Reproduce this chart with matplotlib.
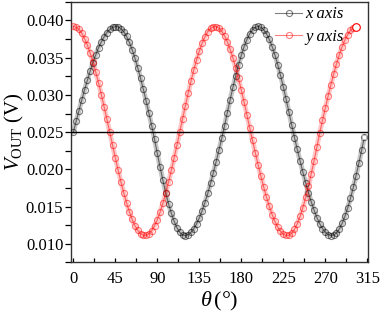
import numpy as np
import matplotlib
matplotlib.use("Agg")
import matplotlib.pyplot as plt
from matplotlib.ticker import MultipleLocator, FormatStrFormatter

# ======== 字体 ========
plt.rcParams['font.family'] = ['Liberation Serif', 'DejaVu Sans']
plt.rcParams['mathtext.fontset'] = 'custom'
plt.rcParams['mathtext.rm'] = 'Liberation Serif'
plt.rcParams['mathtext.it'] = 'Liberation Serif:italic'

# ======== 数据（读图估计，角度步长 3°） ========
v_x_axis = [
    0.02500, 0.02645, 0.02789, 0.02930, 0.03066, 0.03196, 0.03319, 0.03433, 0.03538, 0.03632,  # 0-27
    0.03713, 0.03782, 0.03838, 0.03880, 0.03907, 0.03919, 0.03915, 0.03892, 0.03849, 0.03786,  # 30-57
    0.03706, 0.03608, 0.03494, 0.03366, 0.03226, 0.03076, 0.02917, 0.02753, 0.02585, 0.02404,  # 60-87
    0.02213, 0.02028, 0.01852, 0.01688, 0.01540, 0.01410, 0.01302, 0.01216, 0.01155, 0.01119,  # 90-117
    0.01110, 0.01122, 0.01153, 0.01201, 0.01266, 0.01347, 0.01443, 0.01553, 0.01676, 0.01810,  # 120-147
    0.01952, 0.02102, 0.02257, 0.02415, 0.02583, 0.02761, 0.02934, 0.03101, 0.03258, 0.03402,  # 150-177
    0.03533, 0.03647, 0.03743, 0.03820, 0.03875, 0.03909, 0.03920, 0.03909, 0.03876, 0.03821,  # 180-207
    0.03745, 0.03650, 0.03537, 0.03408, 0.03264, 0.03108, 0.02943, 0.02771, 0.02595, 0.02426,  # 210-237
    0.02267, 0.02112, 0.01962, 0.01819, 0.01685, 0.01561, 0.01450, 0.01353, 0.01270, 0.01204,  # 240-267
    0.01155, 0.01124, 0.01111, 0.01117, 0.01146, 0.01199, 0.01273, 0.01368, 0.01481, 0.01612,  # 270-297
    0.01758, 0.01917, 0.02085, 0.02260, 0.02440,                                               # 300-312
]
v_y_axis = [
    0.03920, 0.03910, 0.03879, 0.03828, 0.03757, 0.03669, 0.03563, 0.03442, 0.03307, 0.03160,  # 0-27
    0.03004, 0.02840, 0.02671, 0.02500, 0.02326, 0.02155, 0.01990, 0.01832, 0.01685, 0.01551,  # 30-57
    0.01431, 0.01328, 0.01244, 0.01180, 0.01136, 0.01113, 0.01112, 0.01134, 0.01177, 0.01241,  # 60-87
    0.01324, 0.01427, 0.01546, 0.01681, 0.01829, 0.01987, 0.02153, 0.02325, 0.02500, 0.02677,  # 90-117
    0.02851, 0.03020, 0.03181, 0.03331, 0.03468, 0.03590, 0.03695, 0.03781, 0.03848, 0.03893,  # 120-147
    0.03916, 0.03918, 0.03898, 0.03857, 0.03795, 0.03714, 0.03614, 0.03498, 0.03366, 0.03222,  # 150-177
    0.03066, 0.02902, 0.02732, 0.02558, 0.02389, 0.02223, 0.02062, 0.01907, 0.01761, 0.01625,  # 180-207
    0.01501, 0.01393, 0.01300, 0.01225, 0.01167, 0.01130, 0.01112, 0.01115, 0.01142, 0.01194,  # 210-237
    0.01270, 0.01368, 0.01487, 0.01624, 0.01776, 0.01942, 0.02118, 0.02301, 0.02488, 0.02657,  # 240-267
    0.02822, 0.02983, 0.03138, 0.03283, 0.03417, 0.03539, 0.03646, 0.03737, 0.03811, 0.03866,  # 270-297
    0.03902, 0.03919,                                                                          # 300-303
]
theta_step = 3.0
theta_x_axis = np.arange(len(v_x_axis)) * theta_step
theta_y_axis = np.arange(len(v_y_axis)) * theta_step
v_ref = 0.025
labels = ["x axis", "y axis"]
x_ticks = [0, 45, 90, 135, 180, 225, 270, 315]

# ======== 绘图 ========
fig = plt.figure(figsize=(3.88, 3.12), dpi=100)
ax = fig.add_axes([0.183, 0.159, 0.766, 0.835])

series = [
    (theta_x_axis, v_x_axis, "black", labels[0]),
    (theta_y_axis, v_y_axis, "red", labels[1]),
]
for th, v, c, lab in series:
    # 密集空心圆叠在一起形成的色带
    ax.plot(th, v, color=c, alpha=0.22, lw=3.6, solid_capstyle="round", zorder=2)
    ax.plot(th, v, color=c, alpha=0.5, lw=0.8, marker="o", ms=4.4, mfc="none",
            mec=c, mew=0.8, label=lab, zorder=3)

# 末端数据点
ax.plot(theta_y_axis[-1], v_y_axis[-1], marker="o", ms=5.5, mfc="white",
        mec="red", mew=0.8, zorder=5)
ax.plot(theta_x_axis[-1], v_x_axis[-1], marker="s", ms=3, mfc="white",
        mec="#bbbbbb", mew=0.6, zorder=5)

ax.axhline(v_ref, color="black", lw=1.0, zorder=4)

# ======== 坐标轴 ========
ax.set_xlim(-2.5, 316)
ax.set_ylim(0.0075, 0.0425)
ax.set_xticks(x_ticks)
ax.xaxis.set_minor_locator(MultipleLocator(22.5))
ax.yaxis.set_major_locator(MultipleLocator(0.005))
ax.yaxis.set_minor_locator(MultipleLocator(0.0025))
ax.yaxis.set_major_formatter(FormatStrFormatter('%.3f'))

ax.tick_params(axis="x", which="both", direction="in", length=3, width=0.9,
               labelsize=12, pad=6, top=False)
ax.tick_params(axis="y", which="both", direction="out", length=4, width=0.9,
               labelsize=12, pad=1.5, right=False)
for s in ax.spines.values():
    s.set_linewidth(1.0)
    s.set_color("#333333")

ax.set_xlabel(r"$\theta\,$(°)", fontsize=16, labelpad=2)
ax.set_ylabel(r"$V_{\rm OUT}$ (V)", fontsize=15, labelpad=0)

# ======== 图例 ========
ax.legend(loc="upper left", bbox_to_anchor=(0.665, 1.008), frameon=False,
          prop={"family": "Liberation Serif", "style": "italic", "size": 12},
          handlelength=1.6, handletextpad=0.2, labelspacing=0.38, borderaxespad=0.0)

plt.savefig("out.png", dpi=100)
